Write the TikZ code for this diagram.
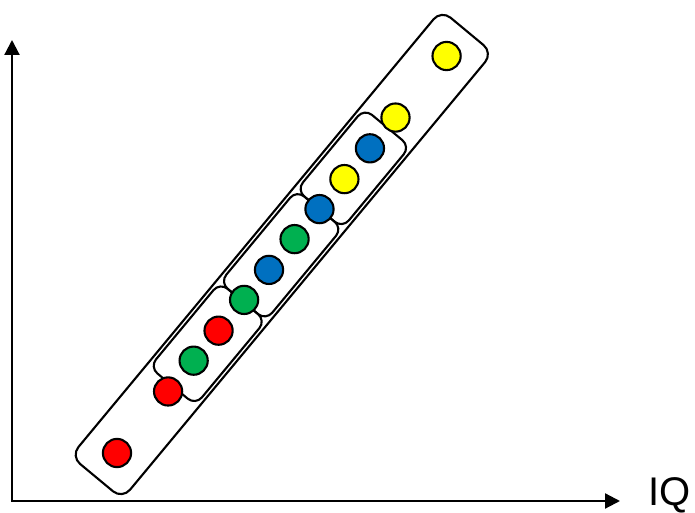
\documentclass[tikz,border=0pt]{standalone}
\usepackage{fontspec}
\setmainfont{Liberation Sans}
\usetikzlibrary{arrows.meta}
\definecolor{cred}{HTML}{FF0000}
\definecolor{cgreen}{HTML}{00B050}
\definecolor{cblue}{HTML}{0070C0}
\definecolor{cyellow}{HTML}{FFFF00}
\begin{document}
\begin{tikzpicture}[x=1pt,y=1pt,
  axis/.style={line width=2.2pt,line cap=rect,-{Triangle[length=15pt,width=15pt]}},
  box/.style={draw=black,line width=2.1pt,rounded corners=10pt},
  bigbox/.style={box,rounded corners=12pt},
  dot/.style={circle,draw=black,line width=2.1pt,minimum size=28.2pt,inner sep=0pt}]
\useasboundingbox (0,0) rectangle (695,513);
\coordinate (O) at (12,12);
\coordinate (Y) at (12,473);
\coordinate (X) at (620,12);
\draw[axis] (O) -- (Y);
\draw[axis] (O) -- (X);
\node[font=\fontsize{40}{40}\selectfont, anchor=base west, inner sep=0pt] (iq) at (648.5,7) {IQ};
\begin{scope}[shift={(117,60)},rotate=50.3]
  \draw[bigbox] (-32,-33.5) rectangle (548,33.5);
  \draw[box] (87,-29.8) rectangle (197,29.8);
  \draw[box] (197,-29.8) rectangle (317,29.8);
  \draw[box] (317,-29.8) rectangle (423,29.8);
  \node[dot,fill=cred]    (c1)  at (0,0)   {};
  \node[dot,fill=cred]    (c2)  at (80,0)  {};
  \node[dot,fill=cgreen]  (c3)  at (120,0) {};
  \node[dot,fill=cred]    (c4)  at (159,0) {};
  \node[dot,fill=cgreen]  (c5)  at (199,0) {};
  \node[dot,fill=cblue]   (c6)  at (238,0) {};
  \node[dot,fill=cgreen]  (c7)  at (278,0) {};
  \node[dot,fill=cblue]   (c8)  at (317,0) {};
  \node[dot,fill=cyellow] (c9)  at (356,0) {};
  \node[dot,fill=cblue]   (c10) at (396,0) {};
  \node[dot,fill=cyellow] (c11) at (436,0) {};
  \node[dot,fill=cyellow] (c12) at (516,0) {};
\end{scope}
\end{tikzpicture}
\end{document}
